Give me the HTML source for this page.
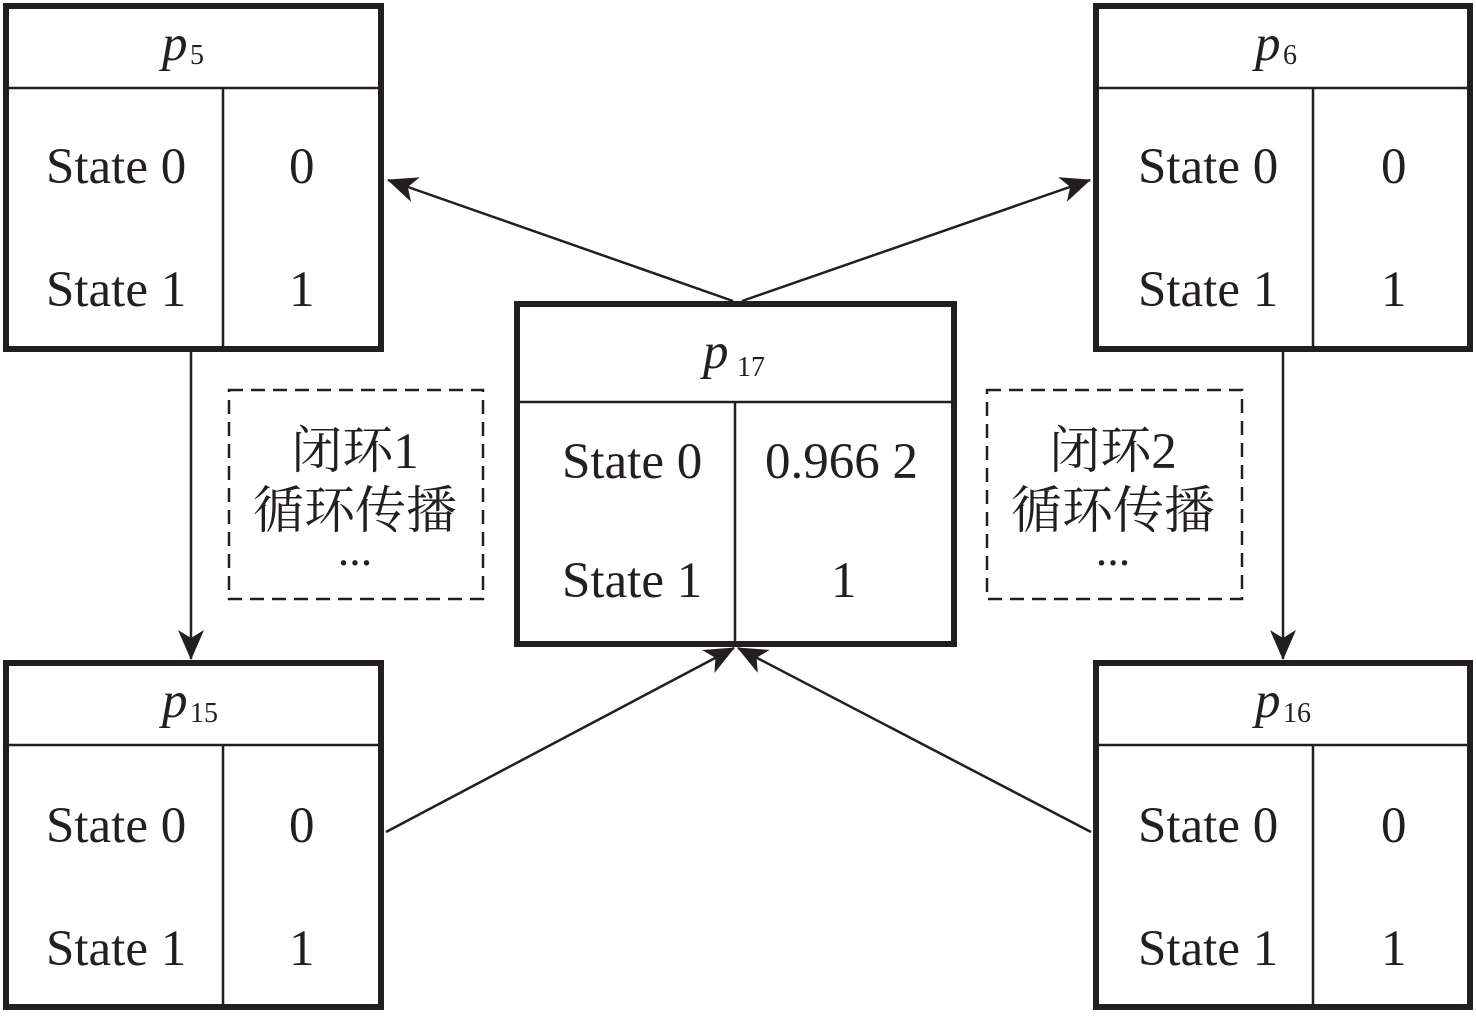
<!DOCTYPE html>
<html><head><meta charset="utf-8"><style>
body{margin:0;background:#fff;}
svg text{font-family:"Liberation Serif","Noto Serif CJK SC",serif;fill:#231f20;}
</style></head><body>
<svg width="1476" height="1013" viewBox="0 0 1476 1013" xmlns="http://www.w3.org/2000/svg">
<defs>
<marker id="b" markerWidth="30" markerHeight="26" refX="29" refY="13" orient="auto" markerUnits="userSpaceOnUse" viewBox="0 0 30 26"><path d="M0,0 L30,13 L0,26 L8,13 Z" fill="#231f20"/></marker></defs>
<g stroke="#231f20" fill="none">
<rect x="6" y="6" width="375" height="343" stroke-width="6"/>
<line x1="6" y1="88" x2="381" y2="88" stroke-width="2.5"/>
<line x1="223" y1="88" x2="223" y2="349" stroke-width="2.5"/>
<rect x="1096" y="6" width="374" height="343" stroke-width="6"/>
<line x1="1096" y1="88" x2="1470" y2="88" stroke-width="2.5"/>
<line x1="1313" y1="88" x2="1313" y2="349" stroke-width="2.5"/>
<rect x="6" y="663" width="375" height="344" stroke-width="6"/>
<line x1="6" y1="745" x2="381" y2="745" stroke-width="2.5"/>
<line x1="223" y1="745" x2="223" y2="1007" stroke-width="2.5"/>
<rect x="1096" y="663" width="374" height="344" stroke-width="6"/>
<line x1="1096" y1="745" x2="1470" y2="745" stroke-width="2.5"/>
<line x1="1313" y1="745" x2="1313" y2="1007" stroke-width="2.5"/>
<rect x="517" y="304" width="437" height="340" stroke-width="6"/>
<line x1="517" y1="402" x2="954" y2="402" stroke-width="2.5"/>
<line x1="735" y1="402" x2="735" y2="644" stroke-width="2.5"/>
<rect x="229" y="390" width="254" height="209" stroke-width="2.5" stroke-dasharray="14,8"/>
<rect x="987" y="390" width="255" height="209" stroke-width="2.5" stroke-dasharray="14,8"/>
<line x1="733" y1="301" x2="388" y2="180" stroke-width="2.5" marker-end="url(#b)"/>
<line x1="742" y1="301" x2="1090" y2="180" stroke-width="2.5" marker-end="url(#b)"/>
<line x1="386" y1="832" x2="734" y2="648" stroke-width="2.5" marker-end="url(#b)"/>
<line x1="1091" y1="832" x2="738" y2="648" stroke-width="2.5" marker-end="url(#b)"/>
<line x1="191" y1="352" x2="191" y2="659" stroke-width="2.5" marker-end="url(#b)"/>
<line x1="1283" y1="352" x2="1283" y2="659" stroke-width="2.5" marker-end="url(#b)"/>
</g>
<g font-size="51">
<text x="162" y="60" font-style="italic">p</text><text x="190" y="64" font-size="28">5</text>
<text x="1255" y="60" font-style="italic">p</text><text x="1283" y="64" font-size="28">6</text>
<text x="162" y="717" font-style="italic">p</text><text x="190" y="722" font-size="28">15</text>
<text x="1255" y="717" font-style="italic">p</text><text x="1283" y="722" font-size="28">16</text>
<text x="703" y="368" font-style="italic">p</text><text x="737" y="376" font-size="28">17</text>
<text x="46" y="183">State 0</text><text x="289" y="183">0</text>
<text x="46" y="306">State 1</text><text x="289" y="306">1</text>
<text x="1138" y="183">State 0</text><text x="1381" y="183">0</text>
<text x="1138" y="306">State 1</text><text x="1381" y="306">1</text>
<text x="46" y="842">State 0</text><text x="289" y="842">0</text>
<text x="46" y="965">State 1</text><text x="289" y="965">1</text>
<text x="1138" y="842">State 0</text><text x="1381" y="842">0</text>
<text x="1138" y="965">State 1</text><text x="1381" y="965">1</text>
<text x="562" y="478">State 0</text><text x="765" y="478">0.966 2</text>
<text x="562" y="597">State 1</text><text x="831" y="597">1</text>
<text x="355" y="468" text-anchor="middle">闭环1</text>
<text x="355" y="528" text-anchor="middle">循环传播</text>
<text x="355" y="565" text-anchor="middle" font-size="46">...</text>
<text x="1113" y="468" text-anchor="middle">闭环2</text>
<text x="1113" y="528" text-anchor="middle">循环传播</text>
<text x="1113" y="565" text-anchor="middle" font-size="46">...</text>
</g>
</svg>
</body></html>
